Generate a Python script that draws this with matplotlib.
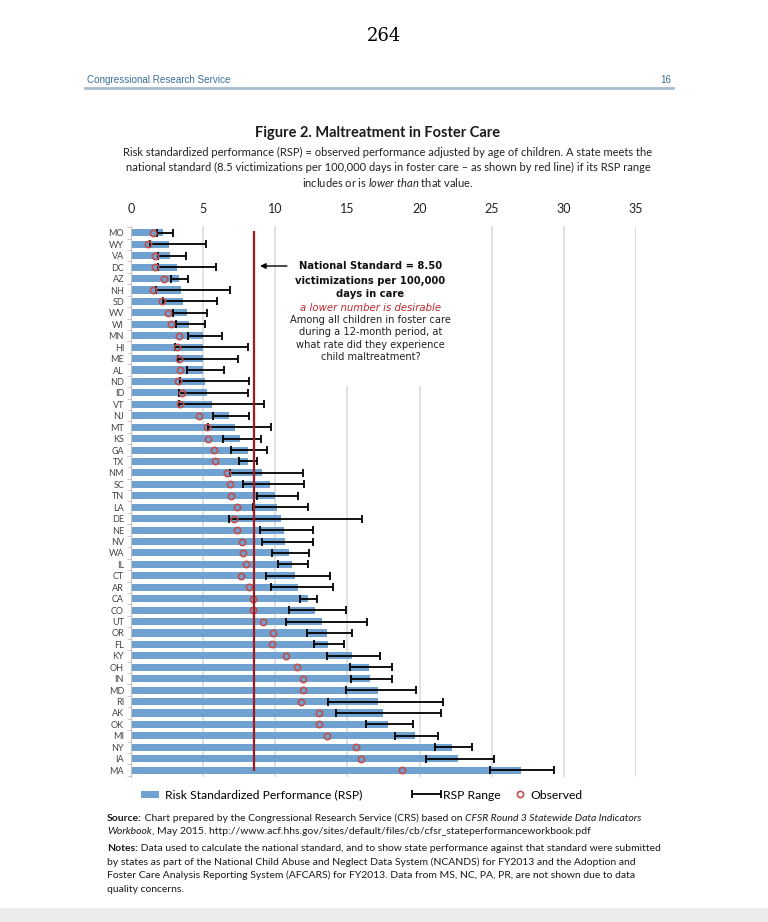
import numpy as np
import matplotlib
matplotlib.use('Agg')
import matplotlib.pyplot as plt
from matplotlib.patches import Rectangle
from matplotlib.lines import Line2D
from matplotlib.container import ErrorbarContainer
from matplotlib.legend_handler import HandlerErrorbar

plt.rcParams['font.family'] = ['Lato', 'DejaVu Sans']
plt.rcParams['mathtext.fontset'] = 'custom'
plt.rcParams['mathtext.rm'] = 'Lato'
plt.rcParams['mathtext.it'] = 'Lato:italic'
plt.rcParams['mathtext.bf'] = 'Lato:bold'

# ---------------- data ----------------
states = ['MO', 'WY', 'VA', 'DC', 'AZ', 'NH', 'SD', 'WV', 'WI', 'MN', 'HI', 'ME',
          'AL', 'ND', 'ID', 'VT', 'NJ', 'MT', 'KS', 'GA', 'TX', 'NM', 'SC', 'TN',
          'LA', 'DE', 'NE', 'NV', 'WA', 'IL', 'CT', 'AR', 'CA', 'CO', 'UT', 'OR',
          'FL', 'KY', 'OH', 'IN', 'MD', 'RI', 'AK', 'OK', 'MI', 'NY', 'IA', 'MA']

rsp = [2.24, 2.65, 2.70, 3.21, 3.33, 3.44, 3.58, 3.90, 4.00, 4.97, 4.97, 4.97,
       4.97, 5.13, 5.25, 5.59, 6.79, 7.21, 7.55, 8.09, 8.09, 9.06, 9.63, 9.98,
       10.10, 10.40, 10.62, 10.69, 10.97, 11.14, 11.37, 11.59, 12.29, 12.75, 13.26, 13.60,
       13.67, 15.29, 16.51, 16.56, 17.10, 17.14, 17.48, 17.79, 19.68, 22.27, 22.68, 27.03]

rsp_lo = [1.78, 1.32, 1.89, 1.89, 2.75, 1.73, 2.20, 2.93, 3.12, 3.97, 3.05, 3.28,
          3.86, 3.40, 3.35, 3.35, 5.66, 5.36, 6.35, 6.93, 7.51, 6.86, 7.78, 8.71,
          8.43, 6.77, 8.94, 9.06, 9.75, 10.17, 9.36, 9.68, 11.71, 10.95, 10.74, 12.18,
          12.68, 13.60, 15.18, 15.23, 14.88, 13.63, 14.19, 16.29, 18.30, 21.07, 20.44, 24.88]

rsp_hi = [2.93, 5.20, 3.81, 5.87, 3.97, 6.86, 5.94, 5.25, 5.13, 6.29, 8.09, 7.44,
          6.44, 8.20, 8.13, 9.24, 8.16, 9.70, 9.01, 9.45, 8.75, 11.94, 12.01, 11.55,
          12.25, 15.99, 12.63, 12.63, 12.36, 12.25, 13.79, 14.02, 12.91, 14.90, 16.33, 15.29,
          14.76, 17.28, 18.07, 18.11, 19.73, 21.64, 21.46, 19.52, 21.30, 23.61, 25.16, 29.31]

observed = [1.55, 1.16, 1.66, 1.66, 2.29, 1.55, 2.13, 2.58, 2.75, 3.35, 3.21, 3.35,
            3.40, 3.28, 3.51, 3.40, 4.73, 5.25, 5.36, 5.77, 5.84, 6.63, 6.86, 6.93,
            7.33, 7.16, 7.37, 7.67, 7.78, 7.95, 7.60, 8.20, 8.43, 8.48, 9.17, 9.82,
            9.75, 10.72, 11.52, 11.94, 11.90, 11.78, 13.03, 13.03, 13.56, 15.57, 15.92, 18.76]

national_standard = 8.5
x_ticks = [0, 5, 10, 15, 20, 25, 30, 35]

# ---------------- page ----------------
W, H = 768, 922
fig = plt.figure(figsize=(W / 100, H / 100), dpi=100)


def fx(px):
    return px / W


def fy(py):
    return 1 - py / H


# scanned page header
fig.text(fx(384), fy(36), '264', ha='center', va='center', family='DejaVu Serif', fontsize=13)
fig.text(fx(87), fy(80), 'Congressional Research Service', color='#3a6f9c', fontsize=7.1,
         va='center', family='Liberation Sans')
fig.text(fx(671), fy(80), '16', color='#3a6f9c', fontsize=7.1, va='center', ha='right',
         family='Liberation Sans')
fig.add_artist(Line2D([fx(85), fx(673)], [fy(88), fy(88)], color='#a7bccd', lw=2))

# figure title / subtitle
fig.text(fx(378), fy(133), 'Figure 2. Maltreatment in Foster Care', ha='center', va='center',
         fontsize=10.5, fontweight='bold', color='#1a1a1a')
sub_lines = ['Risk standardized performance (RSP) = observed performance adjusted by age of children. A state meets the',
             'national standard (8.5 victimizations per 100,000 days in foster care \u2013 as shown by red line) if its RSP range',
             r'includes or is $\it{lower\ than}$ that value.']
for i, s in enumerate(sub_lines):
    fig.text(fx(388), fy(152 + i * 15), s, ha='center', va='center', fontsize=8.0, color='#222222')

# ---------------- chart ----------------
ax = fig.add_axes([fx(131), fy(777), fx(636 - 131), (777 - 226) / H])
ax.set_axisbelow(True)
y = np.arange(len(states))

h_bar = ax.barh(y, rsp, height=0.62, color='#70a2d1', zorder=2)
err_lo = np.array(rsp) - np.array(rsp_lo)
err_hi = np.array(rsp_hi) - np.array(rsp)
h_err = ax.errorbar(rsp, y, xerr=[err_lo, err_hi], fmt='none', ecolor='black',
                    elinewidth=1.3, capsize=3, capthick=1.3, zorder=3)
h_obs, = ax.plot(observed, y, 'o', ls='none', mfc='none', mec='#c0504d', ms=4.5, mew=1.2, zorder=4)
ax.vlines(national_standard, -0.15, len(states) - 0.95, color='#a3191c', lw=1.6, zorder=5)

ax.set_xlim(0, 35)
ax.set_ylim(len(states) - 0.4, -0.6)
ax.xaxis.tick_top()
ax.set_xticks(x_ticks)
ax.tick_params(axis='x', length=0, pad=8, labelsize=9, labelcolor='#222222')
ax.set_yticks(y)
ax.set_yticklabels(states)
ax.tick_params(axis='y', which='major', length=0, pad=5, labelsize=6.5, labelcolor='#444444')
ax.set_yticks(np.arange(-0.5, len(states)), minor=True)
ax.tick_params(axis='y', which='minor', length=3, color='#bfbfbf', direction='out')
ax.xaxis.grid(True, color='#d9d9d9', lw=1.1)
for side in ['top', 'right', 'bottom']:
    ax.spines[side].set_visible(False)
ax.spines['left'].set_color('#bfbfbf')

# white box behind the note
ax.add_patch(Rectangle((11.0, -0.6), 9.6, 14.0, facecolor='white', edgecolor='none', zorder=1))
ax.annotate('', xy=(8.75, 2.9), xytext=(11.0, 2.9),
            arrowprops=dict(arrowstyle='-|>', color='black', lw=1.0, mutation_scale=8), zorder=6)
note = [('National Standard = 8.50', 2.9, 'bold', 'normal', '#111111', 7.2),
        ('victimizations per 100,000', 4.2, 'bold', 'normal', '#111111', 7.2),
        ('days in care', 5.35, 'bold', 'normal', '#111111', 7.2),
        ('a lower number is desirable', 6.55, 'normal', 'oblique', '#c0282d', 7.3),
        ('Among all children in foster care', 7.6, 'normal', 'normal', '#222222', 7.1),
        ('during a 12-month period, at', 8.7, 'normal', 'normal', '#222222', 7.1),
        ('what rate did they experience', 9.8, 'normal', 'normal', '#222222', 7.1),
        ('child maltreatment?', 10.9, 'normal', 'normal', '#222222', 7.1)]
for s, yy, w, st, c, fs in note:
    ax.text(16.6, yy, s, ha='center', va='center', fontsize=fs, family='DejaVu Sans',
            fontweight=w, style=st, color=c, zorder=6)

# legend, three separate pieces as in the original layout
leg_kw = dict(loc='center left', frameon=False, fontsize=8.7, borderpad=0, borderaxespad=0)
fig.legend([h_bar], ['Risk Standardized Performance (RSP)'], bbox_to_anchor=(fx(141), fy(795)),
           handlelength=1.5, handleheight=0.5, handletextpad=0.45, **leg_kw)
fig.legend([h_err], ['RSP Range'], bbox_to_anchor=(fx(411), fy(795)),
           handlelength=2.5, handletextpad=0.15,
           handler_map={ErrorbarContainer: HandlerErrorbar(xerr_size=1.2)}, **leg_kw)
fig.legend([h_obs], ['Observed'], bbox_to_anchor=(fx(514), fy(795)),
           handlelength=1.0, handletextpad=0.35, **leg_kw)


# ---------------- source / notes ----------------
def text_line(x, yp, pieces, size=7.5):
    s, w, st = pieces[0]
    t = fig.text(fx(x), fy(yp), s, fontsize=size, fontweight=w, style=st, va='center', color='#1a1a1a')
    for s, w, st in pieces[1:]:
        t = ax.annotate(s, xy=(1, 0), xycoords=t, ha='left', va='bottom', fontsize=size,
                        fontweight=w, style=st, color='#1a1a1a', annotation_clip=False)


N, B, I = ('normal', 'normal'), ('bold', 'normal'), ('normal', 'italic')
text_line(107, 818, [('Source:',) + B,
                     (' Chart prepared by the Congressional Research Service (CRS) based on ',) + N,
                     ('CFSR Round 3 Statewide Data Indicators',) + I])
text_line(107, 832, [('Workbook',) + I,
                     (', May 2015. http://www.acf.hhs.gov/sites/default/files/cb/cfsr_stateperformanceworkbook.pdf',) + N])
text_line(107, 848, [('Notes:',) + B,
                     (' Data used to calculate the national standard, and to show state performance against that standard were submitted',) + N])
text_line(107, 862, [('by states as part of the National Child Abuse and Neglect Data System (NCANDS) for FY2013 and the Adoption and',) + N])
text_line(107, 875, [('Foster Care Analysis Reporting System (AFCARS) for FY2013. Data from MS, NC, PA, PR, are not shown due to data',) + N])
text_line(107, 889, [('quality concerns.',) + N])

# grey edge of the scanned page
fig.add_artist(Rectangle((0, 0), 1, 14 / H, transform=fig.transFigure, facecolor='#ececec',
                         edgecolor='none'))

fig.savefig('out.png', dpi=100)
